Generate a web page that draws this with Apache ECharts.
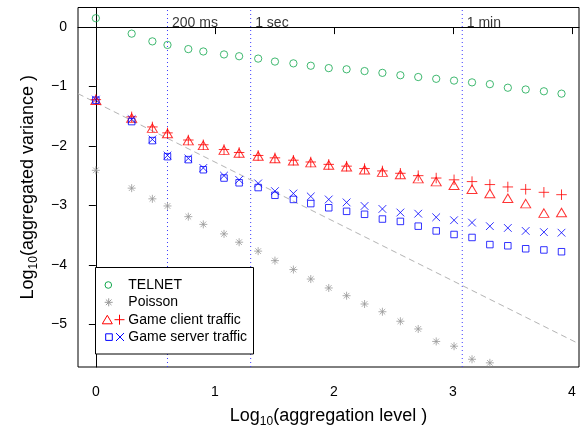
<!DOCTYPE html>
<html><head><meta charset="utf-8">
<script src="https://cdn.jsdelivr.net/npm/echarts@6/dist/echarts.min.js"></script>
<style>html,body{margin:0;padding:0;background:#fff}#c{width:588px;height:427px}</style>
</head><body><div id="c"></div>
<script>
// ---- data (log10 scale) ----
const aggLevelLog = [0, 0.301, 0.475, 0.602, 0.777, 0.903, 1.077, 1.204, 1.364, 1.505, 1.660, 1.806, 1.957, 2.107, 2.258, 2.408, 2.559, 2.709, 2.860, 3.010, 3.161, 3.311, 3.462, 3.612, 3.765, 3.913];
const telnet = [0.15, -0.11, -0.24, -0.30, -0.37, -0.41, -0.46, -0.49, -0.53, -0.58, -0.61, -0.65, -0.69, -0.71, -0.74, -0.77, -0.81, -0.84, -0.87, -0.90, -0.93, -0.96, -1.02, -1.05, -1.08, -1.12];
const poisson = [-2.41, -2.71, -2.89, -3.01, -3.19, -3.32, -3.48, -3.62, -3.77, -3.93, -4.08, -4.24, -4.39, -4.52, -4.66, -4.79, -4.95, -5.08, -5.29, -5.37, -5.59, -5.65];
const clientTri = [-1.23, -1.53, -1.70, -1.79, -1.91, -1.99, -2.07, -2.12, -2.17, -2.21, -2.25, -2.28, -2.32, -2.35, -2.40, -2.44, -2.48, -2.55, -2.60, -2.66, -2.73, -2.80, -2.88, -2.97, -3.13, -3.12];
const clientPlus = [-1.22, -1.51, -1.68, -1.78, -1.90, -1.98, -2.06, -2.11, -2.16, -2.20, -2.24, -2.27, -2.31, -2.34, -2.38, -2.42, -2.46, -2.50, -2.54, -2.57, -2.60, -2.65, -2.69, -2.73, -2.78, -2.82];
const serverSq = [-1.23, -1.59, -1.91, -2.18, -2.23, -2.40, -2.54, -2.62, -2.70, -2.83, -2.90, -2.97, -3.04, -3.10, -3.15, -3.23, -3.27, -3.35, -3.43, -3.49, -3.54, -3.66, -3.68, -3.73, -3.75, -3.78];
const serverX = [-1.22, -1.55, -1.89, -2.16, -2.21, -2.37, -2.50, -2.57, -2.63, -2.76, -2.80, -2.85, -2.90, -2.95, -3.01, -3.06, -3.12, -3.14, -3.20, -3.25, -3.29, -3.35, -3.38, -3.43, -3.45, -3.46];
const xTicks = [0, 1, 2, 3, 4];
const yTicks = [0, -1, -2, -3, -4, -5];
const timescaleX = [0.602, 1.301, 3.079];
const timescaleLabels = ['200 ms', '1 sec', '1 min'];
const timescaleLabelY = [0.07, 0.07, 0.07];
const refLine = [-1.27, -1]; // intercept, slope
const seriesNames = ['TELNET', 'Poisson', 'Game client traffic', 'Game server traffic'];
const xRange = [-0.15, 4.06];
const yRange = [-5.72, 0.33];

const FONT = '"Liberation Sans", Arial, Helvetica, sans-serif';
const GREEN = '#12a84e', GRAY = '#999999', RED = '#ff0000', BLUE = '#0000ff', VLINE = '#3c3cff';
const PLUS = 'path://M0,5L10,5M5,0L5,10';
const CROSS = 'path://M0,0L10,10M0,10L10,0';
const STAR = 'path://M0,5L10,5M5,0L5,10M1.5,1.5L8.5,8.5M1.5,8.5L8.5,1.5';
const pair = arr => arr.map((v, i) => [aggLevelLog[i], v]);
const hollow = c => ({ color: 'transparent', borderColor: c, borderWidth: 1 });
const minus = v => String(v).replace('-', '\u2212');

const chart = echarts.init(document.getElementById('c'), null, { renderer: 'canvas' });

// legend drawn as graphic (combined symbols per entry)
const LX = 95.5, LY = 267.5, rowY = [285, 302.3, 319.7, 337];
const seg = (x1, y1, x2, y2, c) => ({ type: 'line', shape: { x1, y1, x2, y2 }, style: { stroke: c, lineWidth: 1 }, z: 101 });
const legendGraphic = [
  { type: 'rect', shape: { x: LX, y: LY, width: 158, height: 86.5 }, style: { fill: '#fff', stroke: '#000', lineWidth: 1 }, z: 100 },
  { type: 'circle', shape: { cx: 108.3, cy: rowY[0], r: 3.3 }, style: { fill: 'none', stroke: GREEN, lineWidth: 1 }, z: 101 },
  seg(104.7, 302.3, 112.7, 302.3, GRAY), seg(108.7, 298.3, 108.7, 306.3, GRAY),
  seg(105.9, 299.5, 111.5, 305.1, GRAY), seg(105.9, 305.1, 111.5, 299.5, GRAY),
  { type: 'polygon', shape: { points: [[102.3, 323.8], [107.3, 315.3], [112.3, 323.8]] }, style: { fill: 'none', stroke: RED, lineWidth: 1 }, z: 101 },
  seg(114.5, 319.7, 124.5, 319.7, RED), seg(119.5, 314.7, 119.5, 324.7, RED),
  { type: 'rect', shape: { x: 105.7, y: 333.8, width: 6.6, height: 6.6 }, style: { fill: 'none', stroke: BLUE, lineWidth: 1 }, z: 101 },
  seg(116, 333, 124, 341, BLUE), seg(116, 341, 124, 333, BLUE)
].concat(seriesNames.map((n, i) => ({
  type: 'text', x: 128.3, y: rowY[i], z: 101,
  style: { text: n, fill: '#000', font: '14px ' + FONT, verticalAlign: 'middle' }
})));

const nameStyle = {
  fontSize: 18, color: '#000', fontFamily: FONT, lineHeight: 22,
  rich: { s: { fontSize: 12, fontFamily: FONT, color: '#000', verticalAlign: 'bottom', lineHeight: 24 } }
};

const option = {
  animation: false,
  backgroundColor: '#fff',
  grid: { left: 78, right: 9, top: 7.5, bottom: 60, containLabel: false, outerBoundsMode: 'none', show: true, borderColor: '#000', borderWidth: 1, backgroundColor: 'transparent' },
  xAxis: {
    type: 'value', min: xRange[0], max: xRange[1],
    name: 'Log{s|10}(aggregation level )', nameLocation: 'middle', nameGap: 32,
    nameTextStyle: nameStyle,
    axisLine: { show: true, lineStyle: { color: '#000', width: 1 } },
    axisTick: { show: true, length: 7, customValues: xTicks, lineStyle: { color: '#000' } },
    axisLabel: { customValues: xTicks, margin: 18, fontSize: 14, color: '#000', fontFamily: FONT, formatter: minus },
    splitLine: { show: false }
  },
  yAxis: {
    type: 'value', min: yRange[0], max: yRange[1],
    name: 'Log{s|10}(aggregated variance )', nameLocation: 'middle', nameGap: 38, nameRotate: 90,
    nameTextStyle: nameStyle,
    axisLine: { show: true, lineStyle: { color: '#000', width: 1 } },
    axisTick: { show: true, length: 7, customValues: yTicks, lineStyle: { color: '#000' } },
    axisLabel: { customValues: yTicks, margin: 11, fontSize: 14, color: '#000', fontFamily: FONT, formatter: minus },
    splitLine: { show: false }
  },
  graphic: legendGraphic,
  series: [
    {
      name: 'reference', type: 'line', data: xRange.map(x => [x, refLine[0] + refLine[1] * x]),
      symbol: 'none', lineStyle: { color: '#b4b4b4', width: 1, type: [6, 4] }, silent: true, z: 1
    }
  ].concat(timescaleX.map((x, i) => ({
    name: 'timescale ' + timescaleLabels[i], type: 'line', silent: true, z: 1, symbol: 'none',
    data: yRange.map(y => [x, y]),
    itemStyle: { color: VLINE },
    lineStyle: { color: VLINE, width: 1, type: [1, 3] }
  }))).concat([
    {
      name: 'timescale labels', type: 'scatter', symbolSize: 1, itemStyle: { color: 'transparent' }, silent: true, z: 1,
      data: timescaleX.map((x, i) => ({ value: [x, timescaleLabelY[i]], name: timescaleLabels[i] })),
      label: { show: true, position: 'right', distance: 4, formatter: p => p.name, fontSize: 14, color: '#000', fontFamily: FONT }
    },
    { name: seriesNames[0], type: 'scatter', data: pair(telnet), symbol: 'circle', symbolSize: 7.3, itemStyle: hollow(GREEN), z: 3 },
    { name: seriesNames[1], type: 'scatter', data: pair(poisson), symbol: STAR, symbolSize: 8, itemStyle: hollow(GRAY), z: 3 },
    { name: seriesNames[2], type: 'scatter', data: pair(clientTri), symbol: 'triangle', symbolSize: [10, 8.5], itemStyle: hollow(RED), z: 3 },
    { name: seriesNames[2] + ' (2)', type: 'scatter', data: pair(clientPlus), symbol: PLUS, symbolSize: 10.5, itemStyle: hollow(RED), z: 3 },
    { name: seriesNames[3], type: 'scatter', data: pair(serverSq), symbol: 'rect', symbolSize: 6.5, itemStyle: hollow(BLUE), z: 3 },
    { name: seriesNames[3] + ' (2)', type: 'scatter', data: pair(serverX), symbol: CROSS, symbolSize: 7.7, itemStyle: hollow(BLUE), z: 3 }
  ])
};
chart.setOption(option);
</script>
</body></html>
